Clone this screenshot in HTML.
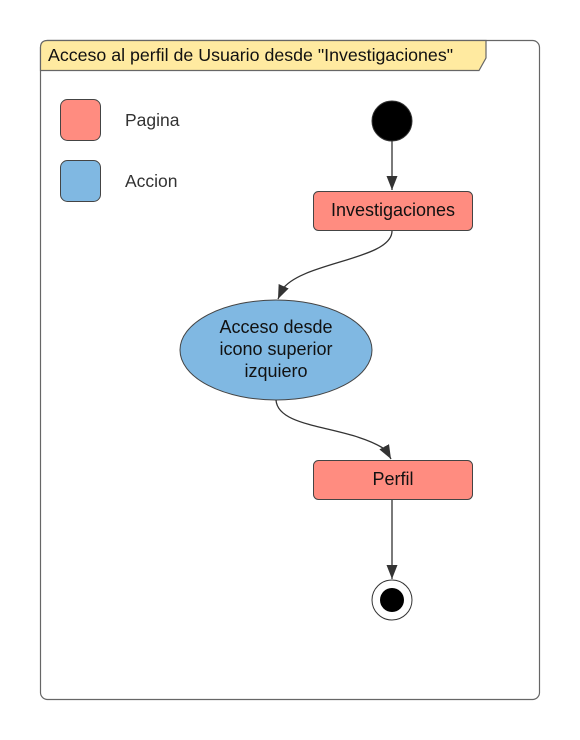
<!DOCTYPE html>
<html><head><meta charset="utf-8"><style>html,body{margin:0;padding:0;background:#fff}svg{display:block}</style></head>
<body>
<svg width="580" height="740" viewBox="0 0 580 740" xmlns="http://www.w3.org/2000/svg" font-family="Liberation Sans, Arial, sans-serif">
<defs><marker id="a" markerWidth="16" markerHeight="12" refX="14" refY="5.5" orient="auto" markerUnits="userSpaceOnUse"><path d="M0,0 L14,5.5 L0,11 z" fill="#333"/></marker></defs>
<rect x="40.5" y="40.5" width="499" height="659" rx="7" fill="#fff" stroke="#666" stroke-width="1.2"/>
<path d="M40.5,70.5 V47.5 Q40.5,40.5 47.5,40.5 H486 V58 L479,70.5 Z" fill="#ffeaa0" stroke="#666" stroke-width="1.2"/>
<text x="48" y="61" font-size="17.8" fill="#111">Acceso al perfil de Usuario desde "Investigaciones"</text>
<rect x="60.5" y="99.5" width="40" height="41" rx="7" fill="#ff8c80" stroke="#444"/>
<rect x="60.5" y="160.5" width="40" height="41" rx="7" fill="#80b8e2" stroke="#444"/>
<text x="125" y="126" font-size="17.5" fill="#333">Pagina</text>
<text x="125" y="187" font-size="17.5" fill="#333">Accion</text>
<circle cx="392" cy="121" r="20" fill="#000" stroke="#333"/>
<line x1="392" y1="141" x2="392" y2="190" stroke="#333" stroke-width="1.3" marker-end="url(#a)"/>
<rect x="313.5" y="191.5" width="159" height="39" rx="5" fill="#ff8c80" stroke="#444"/>
<text x="393" y="216" font-size="18" text-anchor="middle" fill="#111">Investigaciones</text>
<path d="M392,231 C392,260 300,262 282,290 L278,299" fill="none" stroke="#333" stroke-width="1.3" marker-end="url(#a)"/>
<ellipse cx="276" cy="350" rx="96" ry="50" fill="#80b8e2" stroke="#444"/>
<text font-size="18" text-anchor="middle" fill="#111"><tspan x="276" y="333">Acceso desde</tspan><tspan x="276" y="355">icono superior</tspan><tspan x="276" y="377">izquiero</tspan></text>
<path d="M276,400 C278,430 350,425 386,450 L391,459" fill="none" stroke="#333" stroke-width="1.3" marker-end="url(#a)"/>
<rect x="313.5" y="460.5" width="159" height="39" rx="5" fill="#ff8c80" stroke="#444"/>
<text x="393" y="485" font-size="18" text-anchor="middle" fill="#111">Perfil</text>
<line x1="392" y1="500" x2="392" y2="579" stroke="#333" stroke-width="1.3" marker-end="url(#a)"/>
<circle cx="392" cy="600" r="20" fill="#fff" stroke="#333"/>
<circle cx="392" cy="600" r="12" fill="#000"/>
</svg>
</body></html>
